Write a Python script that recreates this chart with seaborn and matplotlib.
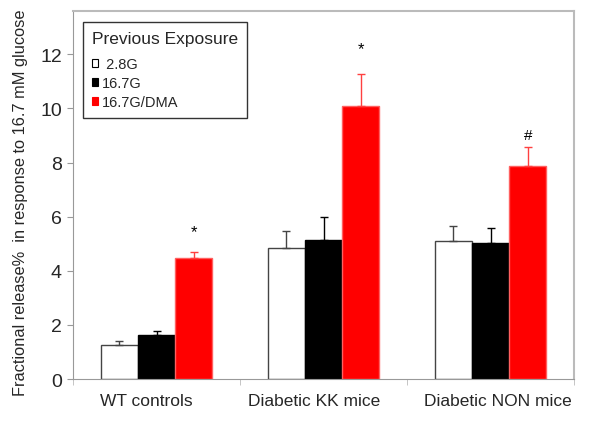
import matplotlib
matplotlib.use("Agg")
import matplotlib.pyplot as plt
import matplotlib.transforms as mtransforms
from matplotlib.patches import Patch
import pandas as pd
import seaborn as sns

groups = ["WT controls", "Diabetic KK mice", "Diabetic NON mice"]
exposures = ["2.8G", "16.7G", "16.7G/DMA"]
release_28g = [1.27, 4.83, 5.09]
release_167g = [1.64, 5.15, 5.04]
release_dma = [4.46, 10.07, 7.86]
sem_28g = [0.12, 0.63, 0.56]
sem_167g = [0.15, 0.83, 0.54]
sem_dma = [0.23, 1.19, 0.70]
marks = ["*", "*", "#"]
mark_heights = [5.43, 12.2, 9.03]

fills = ["white", "black", "#ff0000"]
edges = ["#444444", "black", "#ff6060"]
err_colors = ["#444444", "black", "#ff4040"]

sns.set_style("white")
plt.rcParams["font.family"] = ["Liberation Sans", "DejaVu Sans"]

df = pd.DataFrame({
    "group": groups * 3,
    "exposure": [e for e in exposures for _ in groups],
    "release": release_28g + release_167g + release_dma,
    "sem": sem_28g + sem_167g + sem_dma,
})

fig = plt.figure(figsize=(6.0, 4.27), dpi=100)
ax = fig.add_axes([0.1217, 0.110, 0.835, 0.862])
sns.barplot(data=df, x="group", y="release", hue="exposure", order=groups, hue_order=exposures,
            palette=fills, saturation=1, errorbar=None, width=0.67, legend=False, ax=ax)

# style bars and add upper error bars (one hue per container)
bar_containers = list(ax.containers)
for k, container in enumerate(bar_containers):
    sub = df[df["exposure"] == exposures[k]].set_index("group").loc[groups]
    xs = []
    for bar in container:
        bar.set_edgecolor(edges[k]); bar.set_linewidth(1.0)
        xs.append(bar.get_x() + bar.get_width() / 2)
    ax.errorbar(xs, sub["release"], yerr=[[0] * len(xs), sub["sem"]], fmt="none",
                ecolor=err_colors[k], elinewidth=1.0, capsize=3, capthick=1.0, zorder=1)
    if k == 2:
        for x, m, h in zip(xs, marks, mark_heights):
            ax.text(x, h, m, ha="center", va="center", fontsize=12 if m == "*" else 11, color="black")

ax.set_ylim(0, 13.6)
ax.set_xlim(-0.5, 2.5)
ax.set_yticks([0, 2, 4, 6, 8, 10, 12])
ax.tick_params(axis="y", labelsize=14, length=4, color="#999999", left=True, pad=4)
ax.tick_params(axis="x", which="major", length=0, labelsize=12.5, pad=10)
ax.set_xticks([-0.5, 0.5, 1.5, 2.5], minor=True)
ax.tick_params(axis="x", which="minor", length=4, color="#bbbbbb", bottom=True)
# category labels in the original sit slightly off their group centres
for lab, dx in zip(ax.get_xticklabels(), [-10, -9, 7]):
    lab.set_transform(lab.get_transform() + mtransforms.ScaledTranslation(dx / 100, 0, fig.dpi_scale_trans))
ax.set_xlabel("")
ax.set_ylabel("Fractional release%  in response to 16.7 mM glucose", fontsize=11.8)
ax.yaxis.set_label_coords(-0.09, 0.481)
for side in ["left", "bottom"]:
    ax.spines[side].set_color("#999999")
for side in ["top", "right"]:
    ax.spines[side].set_color("#bbbbbb")
    ax.spines[side].set_linewidth(1.5)

handles = [Patch(facecolor=f, edgecolor=e, linewidth=0.8) for f, e in zip(fills, ["black", "black", "#ff0000"])]
leg = ax.legend(handles, [" 2.8G", "16.7G", "16.7G/DMA"], title="Previous Exposure", loc="upper left",
                bbox_to_anchor=(0.02, 0.97), borderaxespad=0, fontsize=10.5, title_fontsize=12.5,
                handlelength=0.45, handleheight=0.5, handletextpad=0.25, labelspacing=0.35,
                fancybox=False, frameon=True, borderpad=0.6)
leg.get_frame().set_edgecolor("black")
leg.get_frame().set_linewidth(1.0)
leg._legend_box.align = "left"
leg._legend_box.sep = 8

fig.savefig("out.png", dpi=100)
